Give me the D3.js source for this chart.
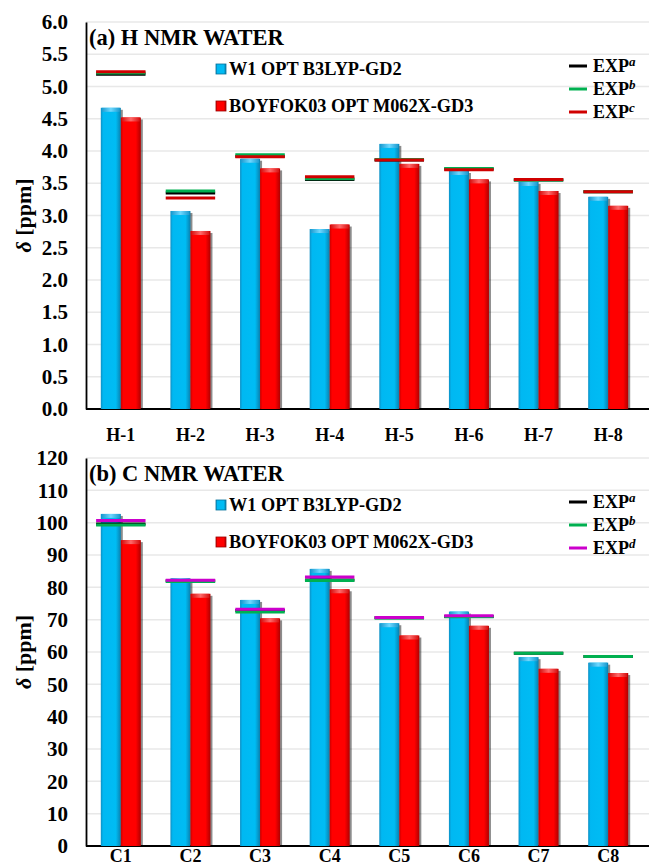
<!DOCTYPE html>
<html>
<head>
<meta charset="utf-8">
<script src="https://cdn.jsdelivr.net/npm/d3@7"></script>
<style>
  html, body { margin: 0; padding: 0; background: #fff; }
  svg { display: block; }
  text { font-family: "Times New Roman", "Liberation Serif", serif; font-weight: bold; fill: #000; }
</style>
</head>
<body>
<svg id="chart" width="649" height="868"></svg>
<script>
// ---- data: panel (a) 1H shifts ----
const hCats = ["H-1", "H-2", "H-3", "H-4", "H-5", "H-6", "H-7", "H-8"];
const hW1   = [4.67, 3.07, 3.88, 2.79, 4.11, 3.69, 3.52, 3.29];
const hBoy  = [4.52, 2.76, 3.73, 2.86, 3.80, 3.56, 3.38, 3.15];
const hExpA = [5.19, 3.35, 3.92, 3.56, 3.86, 3.72, 3.55, 3.37];
const hExpB = [5.21, 3.38, 3.94, 3.57, 3.87, 3.73, 3.55, 3.37];
const hExpC = [5.23, 3.27, 3.91, 3.60, 3.86, 3.71, 3.56, 3.37];
const hTicks = [0, 0.5, 1, 1.5, 2, 2.5, 3, 3.5, 4, 4.5, 5, 5.5, 6];

// ---- data: panel (b) 13C shifts ----
const cCats = ["C1", "C2", "C3", "C4", "C5", "C6", "C7", "C8"];
const cW1   = [102.7, 82.8, 76.1, 85.7, 68.9, 72.5, 58.4, 56.7];
const cBoy  = [94.6, 78.0, 70.4, 79.4, 65.1, 68.1, 54.8, 53.5];
const cExpA = [99.6, 82.0, 72.8, 82.3, 70.6, 71.0, 59.6, 58.6];
const cExpB = [99.3, 81.8, 72.4, 82.1, 70.5, 70.9, 59.6, 58.6];
const cExpD = [100.7, 82.2, 73.2, 83.2, 70.7, 71.2, null, null];
const cTicks = [0, 10, 20, 30, 40, 50, 60, 70, 80, 90, 100, 110, 120];

const seriesNames = ["W1 OPT B3LYP-GD2", "BOYFOK03 OPT M062X-GD3"];

const svg = d3.select("#chart");
const defs = svg.append("defs");

// bar shading: darker edges, bright body
function barGradient(id, stops) {
  const g = defs.append("linearGradient").attr("id", id)
    .attr("x1", "0%").attr("x2", "100%").attr("y1", "0%").attr("y2", "0%");
  stops.forEach(s => g.append("stop").attr("offset", s[0]).attr("stop-color", s[1]));
}
barGradient("gBlue", [["0%", "#0E8FC4"], ["12%", "#00B8F2"], ["75%", "#00BCF4"], ["100%", "#0A7FAE"]]);
barGradient("gRed",  [["0%", "#C80000"], ["12%", "#FF0000"], ["75%", "#FF0000"], ["100%", "#B00000"]]);
barGradient("gBlueK", [["0%", "#1C9BD0"], ["50%", "#6ED8FF"], ["100%", "#1C9BD0"]]);
barGradient("gRedK",  [["0%", "#D81010"], ["50%", "#FF6A6A"], ["100%", "#D81010"]]);

const fills = [
  { body: "url(#gBlue)", cap: "url(#gBlueK)" },
  { body: "url(#gRed)",  cap: "url(#gRedK)" }
];

const serif = "'Times New Roman','Liberation Serif',serif";

function drawPanel(opt) {
  const g = svg.append("g");
  const left = 86, right = 643, gridRight = 649;
  const x0 = d3.scaleBand().domain(opt.cats).range([left, right])
    .paddingInner(0.425).paddingOuter(0.2125);
  const x1 = d3.scaleBand().domain([0, 1]).range([0, x0.bandwidth()]);
  const y = d3.scaleLinear().domain(opt.domain).range([opt.yBottom, opt.yTop]);

  // gridlines
  g.append("g").selectAll("line").data(opt.ticks.filter(t => t !== opt.domain[0])).join("line")
    .attr("x1", left).attr("x2", gridRight)
    .attr("y1", d => y(d)).attr("y2", d => y(d))
    .attr("stroke", "#E8E8E8").attr("stroke-width", 1.5);

  // y axis
  const yAxis = d3.axisLeft(y).tickValues(opt.ticks).tickSize(0).tickPadding(18)
    .tickFormat(opt.fmt);
  const ya = g.append("g").attr("transform", `translate(${left},0)`).call(yAxis);
  ya.select(".domain").attr("stroke", "#000").attr("stroke-width", 1.8);
  ya.selectAll("text").style("font-size", "21px")
    .style("font-family", serif).style("font-weight", "bold");

  // x axis
  const xAxis = d3.axisBottom(x0).tickSize(0).tickPadding(opt.xPad);
  const xa = g.append("g").attr("transform", `translate(0,${opt.yBottom})`).call(xAxis);
  xa.select(".domain").attr("d", `M${left},0H${gridRight}`).attr("stroke", "#000").attr("stroke-width", 1.8);
  xa.selectAll("text").style("font-size", "18px")
    .style("font-family", serif).style("font-weight", "bold");

  // bars
  [opt.w1, opt.boy].forEach((vals, s) => {
    const bg = g.append("g");
    const data = vals.map((v, i) => ({ c: opt.cats[i], v }));
    const bw = x1.bandwidth();
    // soft shadow on the right side
    bg.selectAll("rect.sh").data(data).join("rect").attr("class", "sh")
      .attr("x", d => x0(d.c) + x1(s) + 2).attr("width", bw)
      .attr("y", d => y(d.v) + 2).attr("height", d => opt.yBottom - y(d.v) - 2)
      .attr("fill", "#000").attr("opacity", 0.45);
    bg.selectAll("rect.b").data(data).join("rect").attr("class", "b")
      .attr("x", d => x0(d.c) + x1(s)).attr("width", bw)
      .attr("y", d => y(d.v)).attr("height", d => opt.yBottom - y(d.v))
      .attr("fill", fills[s].body);
    bg.selectAll("rect.k").data(data).join("rect").attr("class", "k")
      .attr("x", d => x0(d.c) + x1(s) + 1).attr("width", bw - 2)
      .attr("y", d => y(d.v)).attr("height", 4)
      .attr("fill", fills[s].cap);
  });

  // experimental reference lines
  const half = x0.step() * 0.355;
  opt.exps.forEach(e => {
    const data = e.vals.map((v, i) => ({ c: opt.cats[i], v })).filter(d => d.v != null);
    g.append("g").selectAll("line").data(data).join("line")
      .attr("x1", d => x0(d.c) + x0.bandwidth() / 2 - half)
      .attr("x2", d => x0(d.c) + x0.bandwidth() / 2 + half)
      .attr("y1", d => y(d.v)).attr("y2", d => y(d.v))
      .attr("stroke", e.color).attr("stroke-width", 3);
  });

  // title
  g.append("text").attr("x", 89).attr("y", opt.yTop + 23)
    .style("font-size", "22.5px").text(opt.title);

  // series legend
  seriesNames.forEach((n, s) => {
    const ly = opt.yTop + 47 + s * 37;
    g.append("rect").attr("x", 216).attr("y", ly - 5).attr("width", 10).attr("height", 10)
      .attr("fill", fills[s].body).attr("stroke", s ? "#900" : "#06709A").attr("stroke-width", 0.8);
    g.append("text").attr("x", 229).attr("y", ly + 6).style("font-size", "18.3px").text(n);
  });

  // experimental legend
  opt.exps.forEach((e, i) => {
    const ly = opt.yTop + 44 + i * 23;
    g.append("line").attr("x1", 569).attr("x2", 587).attr("y1", ly).attr("y2", ly)
      .attr("stroke", e.color).attr("stroke-width", 3);
    const t = g.append("text").attr("x", 593).attr("y", ly + 6).style("font-size", "18px");
    t.append("tspan").text("EXP");
    t.append("tspan").attr("dy", -6).style("font-size", "13px").style("font-style", "italic").text(e.sup);
  });

  // y axis title
  const yt = g.append("text")
    .attr("transform", `translate(31,${(opt.yTop + opt.yBottom) / 2}) rotate(-90)`)
    .attr("text-anchor", "middle").style("font-size", "22px");
  yt.append("tspan").style("font-style", "italic").text("δ");
  yt.append("tspan").text(" [ppm]");
}

drawPanel({
  cats: hCats, w1: hW1, boy: hBoy, domain: [0, 6], ticks: hTicks,
  fmt: d3.format(".1f"), yTop: 22, yBottom: 409, xPad: 19,
  title: "(a) H NMR WATER",
  exps: [
    { vals: hExpA, color: "#000000", sup: "a" },
    { vals: hExpB, color: "#00B050", sup: "b" },
    { vals: hExpC, color: "#D00000", sup: "c" }
  ]
});

drawPanel({
  cats: cCats, w1: cW1, boy: cBoy, domain: [0, 120], ticks: cTicks,
  fmt: d3.format("d"), yTop: 458, yBottom: 846, xPad: 3,
  title: "(b) C NMR WATER",
  exps: [
    { vals: cExpA, color: "#000000", sup: "a" },
    { vals: cExpB, color: "#00B050", sup: "b" },
    { vals: cExpD, color: "#CC00CC", sup: "d" }
  ]
});
</script>
</body>
</html>
